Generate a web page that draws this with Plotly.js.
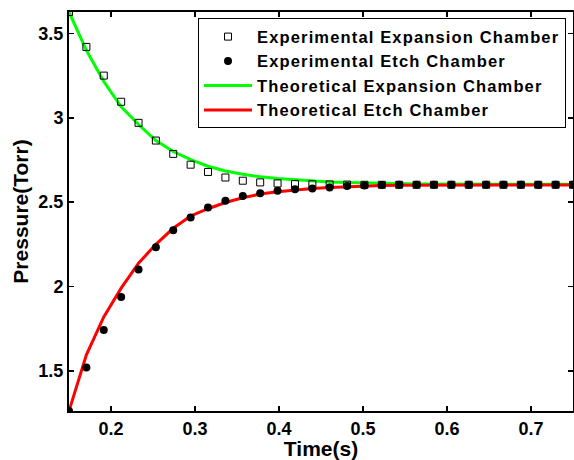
<!DOCTYPE html>
<html>
<head>
<meta charset="utf-8">
<script src="https://cdn.plot.ly/plotly-3.0.1.min.js"></script>
<style>
html,body{margin:0;padding:0;background:#fff;}
#chart{width:574px;height:460px;}
.legendtext{letter-spacing:1.15px;}
</style>
</head>
<body>
<div id="chart"></div>
<script>
// Time samples (s)
const time = [0.1500, 0.1707, 0.1914, 0.2121, 0.2328, 0.2534, 0.2741, 0.2948, 0.3155, 0.3362,
              0.3569, 0.3776, 0.3983, 0.4190, 0.4397, 0.4603, 0.4810, 0.5017, 0.5224, 0.5431,
              0.5638, 0.5845, 0.6052, 0.6259, 0.6466, 0.6672, 0.6879, 0.7086, 0.7293, 0.7500];

// Experimental (markers)
const expExpansion = [3.627, 3.420, 3.250, 3.095, 2.970, 2.865, 2.786, 2.722, 2.679, 2.646,
                      2.627, 2.617, 2.611, 2.607, 2.606, 2.605, 2.604, 2.603, 2.603, 2.603,
                      2.603, 2.603, 2.603, 2.603, 2.603, 2.603, 2.603, 2.603, 2.603, 2.603];
const expEtch = [1.262, 1.520, 1.742, 1.938, 2.101, 2.232, 2.334, 2.409, 2.468, 2.508,
                 2.536, 2.553, 2.567, 2.577, 2.581, 2.587, 2.595, 2.599, 2.601, 2.603,
                 2.603, 2.603, 2.603, 2.603, 2.603, 2.603, 2.603, 2.603, 2.603, 2.603];

// Theoretical (lines)
const theoExpansion = [3.627, 3.400, 3.215, 3.065, 2.960, 2.865, 2.800, 2.752, 2.713, 2.685,
                       2.665, 2.650, 2.640, 2.632, 2.626, 2.620, 2.616, 2.613, 2.611, 2.609,
                       2.608, 2.607, 2.607, 2.606, 2.606, 2.606, 2.606, 2.606, 2.606, 2.606];
const theoEtch = [1.262, 1.595, 1.820, 1.990, 2.138, 2.250, 2.345, 2.418, 2.461, 2.498,
                  2.526, 2.548, 2.561, 2.573, 2.581, 2.587, 2.592, 2.595, 2.598, 2.600,
                  2.601, 2.602, 2.602, 2.602, 2.602, 2.602, 2.602, 2.602, 2.602, 2.602];

const seriesNames = ['Experimental Expansion Chamber', 'Experimental Etch Chamber',
                     'Theoretical Expansion Chamber', 'Theoretical Etch Chamber'];
const xTicks = [0.2, 0.3, 0.4, 0.5, 0.6, 0.7];
const xTickText = ['0.2', '0.3', '0.4', '0.5', '0.6', '0.7'];
const yTicks = [1.5, 2, 2.5, 3, 3.5];
const yTickText = ['1.5', '2', '2.5', '3', '3.5'];

const FONT = 'Liberation Sans, Arial, Helvetica, sans-serif';

const traces = [
  {x: time, y: theoExpansion, name: seriesNames[2], type: 'scatter', mode: 'lines',
   line: {color: '#00ff00', width: 3}, legendrank: 3},
  {x: time, y: theoEtch, name: seriesNames[3], type: 'scatter', mode: 'lines',
   line: {color: '#ff0000', width: 3}, legendrank: 4},
  {x: time, y: expExpansion, name: seriesNames[0], type: 'scatter', mode: 'markers',
   marker: {symbol: 'square-open', size: 7, color: '#000', line: {color: '#000', width: 1}}, legendrank: 1},
  {x: time, y: expEtch, name: seriesNames[1], type: 'scatter', mode: 'markers',
   marker: {symbol: 'circle', size: 8, color: '#000'}, legendrank: 2}
];

const axisCommon = {
  showgrid: false, zeroline: false, showline: true, linecolor: '#000', linewidth: 2,
  mirror: 'allticks', ticks: 'inside', ticklen: 5, tickwidth: 1.5, tickcolor: '#000',
  tickfont: {family: FONT, size: 18, color: '#000', weight: 'bold'}
};

const layout = {
  width: 574, height: 460,
  margin: {l: 69, r: 1, t: 12, b: 49},
  paper_bgcolor: '#fff', plot_bgcolor: '#fff',
  showlegend: true,
  xaxis: Object.assign({}, axisCommon, {
    range: [0.15, 0.75], tickvals: xTicks, ticktext: xTickText,
    title: {text: 'Time(s)', standoff: 2, font: {family: FONT, size: 21, color: '#000', weight: 'bold'}}
  }),
  yaxis: Object.assign({}, axisCommon, {
    range: [1.262, 3.627], tickvals: yTicks, ticktext: yTickText,
    title: {text: 'Pressure(Torr)', standoff: 4, font: {family: FONT, size: 21, color: '#000', weight: 'bold'}}
  }),
  legend: {
    x: 0.256, y: 0.984, xanchor: 'left', yanchor: 'top',
    bgcolor: '#fff', bordercolor: '#000', borderwidth: 1,
    font: {family: FONT, size: 16.5, color: '#000', weight: 'bold'},
    tracegroupgap: 0, itemwidth: 48
  }
};

Plotly.newPlot('chart', traces, layout, {displayModeBar: false, staticPlot: true});
</script>
</body>
</html>
